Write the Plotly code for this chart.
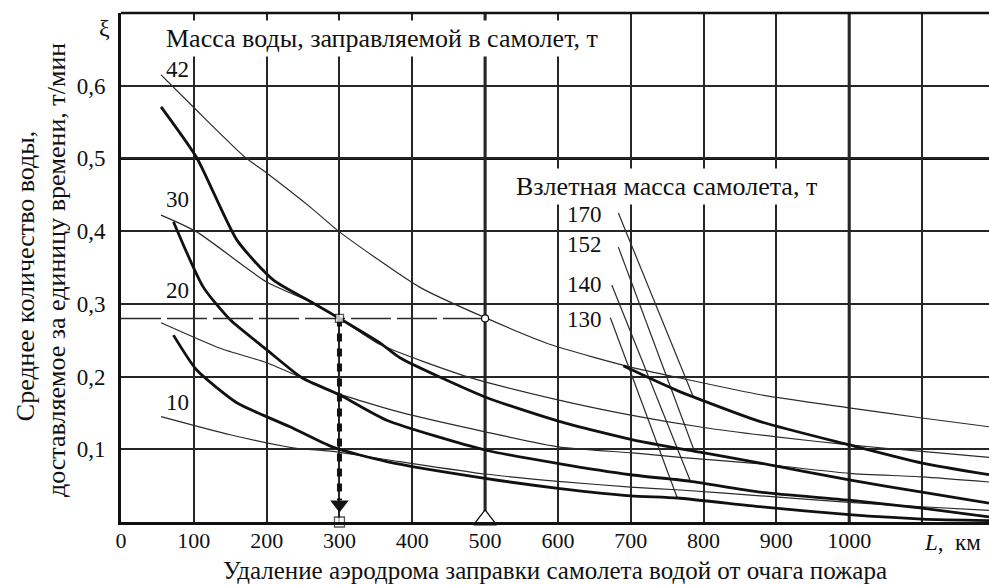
import plotly.graph_objects as go

# ---------------- data ----------------
# thin curves: mass of water loaded into the aircraft, t
dist_w42 = [55, 100, 170, 200, 260, 300, 410, 500, 593, 700, 768, 878, 1000, 1100, 1192]
xi_w42 = [0.615, 0.570, 0.502, 0.480, 0.433, 0.399, 0.323, 0.281, 0.243, 0.213, 0.198, 0.175, 0.157, 0.143, 0.131]

dist_w30 = [55, 104, 200, 255, 300, 356, 475, 600, 700, 800, 900, 1000, 1100, 1192]
xi_w30 = [0.422, 0.399, 0.330, 0.305, 0.280, 0.244, 0.200, 0.168, 0.147, 0.130, 0.117, 0.106, 0.097, 0.089]

dist_w20 = [55, 136, 200, 249, 291, 383, 500, 603, 703, 768, 878, 1000, 1100, 1192]
xi_w20 = [0.274, 0.239, 0.219, 0.198, 0.179, 0.151, 0.124, 0.103, 0.095, 0.089, 0.080, 0.067, 0.062, 0.055]

dist_w10 = [55, 150, 236, 291, 383, 500, 600, 700, 768, 878, 1000, 1100, 1192]
xi_w10 = [0.145, 0.120, 0.102, 0.097, 0.083, 0.066, 0.056, 0.048, 0.044, 0.036, 0.027, 0.021, 0.016]

water_labels = ["42", "30", "20", "10"]
water_label_x = [78, 78, 78, 78]
water_label_y = [0.622, 0.444, 0.319, 0.164]

# thick curves: take-off mass of the aircraft, t
dist_m170 = [690, 700, 768, 786, 878, 1000, 1100, 1192]
xi_m170 = [0.215, 0.210, 0.179, 0.172, 0.138, 0.106, 0.081, 0.065]

dist_m152 = [55, 104, 159, 209, 264, 300, 356, 383, 500, 603, 703, 795, 878, 1000, 1100, 1192]
xi_m152 = [0.571, 0.501, 0.388, 0.333, 0.301, 0.280, 0.246, 0.226, 0.172, 0.138, 0.113, 0.096, 0.081, 0.058, 0.041, 0.026]

dist_m140 = [72, 113, 150, 200, 249, 300, 365, 500, 603, 700, 782, 878, 1000, 1100, 1192]
xi_m140 = [0.413, 0.323, 0.278, 0.237, 0.198, 0.175, 0.140, 0.099, 0.080, 0.065, 0.056, 0.041, 0.030, 0.019, 0.007]

dist_m130 = [72, 104, 159, 195, 232, 291, 365, 500, 603, 700, 764, 878, 1000, 1100, 1192]
xi_m130 = [0.257, 0.209, 0.164, 0.147, 0.131, 0.103, 0.083, 0.060, 0.046, 0.036, 0.033, 0.021, 0.010, 0.004, 0.002]

# leader lines from take-off mass labels to their curves
mass_labels = ["170", "152", "140", "130"]
mass_label_x = [637, 637, 637, 637]
mass_label_y = [0.4225, 0.381, 0.327, 0.278]
leader_x = [[683, 786], [683, 788], [674, 782], [672, 764]]
leader_y = [[0.425, 0.172], [0.378, 0.096], [0.326, 0.056], [0.281, 0.033]]

# worked example
example_xi = 0.28
example_dist_a = 300
example_dist_b = 500

x_ticks = [0, 100, 200, 300, 400, 500, 600, 700, 800, 900, 1000, 1100]
x_tick_text = ["0", "100", "200", "300", "400", "500", "600", "700", "800", "900", "1000", ""]
y_ticks = [0.1, 0.2, 0.3, 0.4, 0.5, 0.6]
y_tick_text = ["0,1", "0,2", "0,3", "0,4", "0,5", "0,6"]

# ---------------- figure ----------------
FONT = "Liberation Serif"
INK = "#111111"
fig = go.Figure()

thin = dict(color="#2b2b2b", width=1.2, shape="spline", smoothing=0.6)
thick = dict(color=INK, width=2.8, shape="spline", smoothing=0.6)

for d, v in [(dist_w42, xi_w42), (dist_w30, xi_w30), (dist_w20, xi_w20), (dist_w10, xi_w10)]:
    fig.add_trace(go.Scatter(x=d, y=v, mode="lines", line=thin, hoverinfo="skip", showlegend=False))

for lx, ly in zip(leader_x, leader_y):
    fig.add_trace(go.Scatter(x=lx, y=ly, mode="lines", line=dict(color="#2b2b2b", width=1.2),
                             hoverinfo="skip", showlegend=False))

for d, v in [(dist_m170, xi_m170), (dist_m152, xi_m152), (dist_m140, xi_m140), (dist_m130, xi_m130)]:
    fig.add_trace(go.Scatter(x=d, y=v, mode="lines", line=thick, hoverinfo="skip", showlegend=False))

# example: dashed horizontal line, dotted arrow
fig.add_trace(go.Scatter(x=[0, example_dist_b], y=[example_xi, example_xi], mode="lines",
                         line=dict(color="#2b2b2b", width=1.5, dash="40px,6px"),
                         hoverinfo="skip", showlegend=False))
fig.add_trace(go.Scatter(x=[example_dist_a, example_dist_a], y=[example_xi, 0.03], mode="lines",
                         line=dict(color=INK, width=5, dash="8px,7px"),
                         hoverinfo="skip", showlegend=False))
fig.add_trace(go.Scatter(x=[example_dist_a], y=[0.024], mode="markers",
                         marker=dict(symbol="triangle-down", size=16, color=INK),
                         hoverinfo="skip", showlegend=False, cliponaxis=False))
fig.add_trace(go.Scatter(x=[example_dist_a, example_dist_a], y=[example_xi, 0], mode="markers",
                         marker=dict(symbol="square", size=[8, 10], color="white",
                                     line=dict(color=INK, width=1.3)),
                         hoverinfo="skip", showlegend=False, cliponaxis=False))
fig.add_trace(go.Scatter(x=[example_dist_b], y=[example_xi], mode="markers",
                         marker=dict(symbol="circle", size=7, color="white",
                                     line=dict(color=INK, width=1.2)),
                         hoverinfo="skip", showlegend=False, cliponaxis=False))
fig.add_trace(go.Scatter(x=[example_dist_b], y=[0.003], mode="markers",
                         marker=dict(symbol="triangle-up", size=20, color="white",
                                     line=dict(color=INK, width=1.3)),
                         hoverinfo="skip", showlegend=False, cliponaxis=False))

# thick grid lines and top frame
shapes = [
    dict(type="line", xref="x", yref="paper", x0=500, x1=500, y0=0, y1=1, line=dict(color=INK, width=3), layer="below"),
    dict(type="line", xref="x", yref="paper", x0=1000, x1=1000, y0=0, y1=1, line=dict(color=INK, width=3), layer="below"),
    dict(type="line", xref="paper", yref="y", x0=0, x1=1, y0=0.5, y1=0.5, line=dict(color=INK, width=3), layer="below"),
    dict(type="line", xref="paper", yref="paper", x0=0, x1=1, y0=1, y1=1, line=dict(color=INK, width=2.5)),
]

annotations = []
for t, x, y in zip(water_labels, water_label_x, water_label_y):
    annotations.append(dict(x=x, y=y, xref="x", yref="y", text=t, showarrow=False,
                            font=dict(family=FONT, size=23, color=INK)))
for t, x, y in zip(mass_labels, mass_label_x, mass_label_y):
    annotations.append(dict(x=x, y=y, xref="x", yref="y", text=t, showarrow=False,
                            font=dict(family=FONT, size=23, color=INK)))

annotations += [
    dict(x=358, y=0.665, xref="x", yref="y", text="Масса воды, заправляемой в самолет, т",
         showarrow=False, bgcolor="white", borderpad=3,
         font=dict(family=FONT, size=26, color=INK)),
    dict(x=749, y=0.461, xref="x", yref="y", text="Взлетная масса самолета, т",
         showarrow=False, bgcolor="white", borderpad=3,
         font=dict(family=FONT, size=26, color=INK)),
    dict(x=0, y=0.680, xref="paper", yref="y", xanchor="center", yanchor="middle", xshift=-17,
         text="ξ", showarrow=False, font=dict(family=FONT, size=24, color=INK)),
    dict(x=1100, y=0, xref="x", yref="paper", xanchor="left", yanchor="middle", yshift=-20,
         text="<i>L</i>,  км", showarrow=False, font=dict(family=FONT, size=23, color=INK)),
    dict(x=0.5, y=0, xref="paper", yref="paper", xanchor="center", yanchor="bottom", yshift=-63,
         borderpad=0,
         text="Удаление аэродрома заправки самолета водой от очага пожара", showarrow=False,
         font=dict(family=FONT, size=25, color=INK)),
    dict(x=0, y=0.483, xref="paper", yref="paper", xanchor="center", yanchor="middle",
         xshift=-96, textangle=-90,
         text="Среднее количество воды,", showarrow=False,
         font=dict(family=FONT, size=26, color=INK)),
    dict(x=0, y=0.495, xref="paper", yref="paper", xanchor="center", yanchor="middle",
         xshift=-65, textangle=-90,
         text="доставляемое за единицу времени, т/мин", showarrow=False,
         font=dict(family=FONT, size=26, color=INK)),
]

fig.update_layout(
    width=989, height=585,
    margin=dict(l=121, r=0, t=13, b=63, pad=0),
    plot_bgcolor="white", paper_bgcolor="white",
    shapes=shapes, annotations=annotations,
    xaxis=dict(range=[0, 1192], tickvals=x_ticks, ticktext=x_tick_text,
               showgrid=True, gridcolor="#262626", gridwidth=1.6,
               showline=True, linecolor=INK, linewidth=3, zeroline=False,
               ticks="", ticklabelstandoff=-3,
               tickfont=dict(family=FONT, size=22, color=INK), fixedrange=True),
    yaxis=dict(range=[0, 0.7], tickvals=y_ticks, ticktext=y_tick_text,
               showgrid=True, gridcolor="#262626", gridwidth=1.6,
               showline=True, linecolor=INK, linewidth=3, zeroline=False,
               ticks="outside", ticklen=8, tickcolor="rgba(0,0,0,0)",
               tickfont=dict(family=FONT, size=23, color=INK), fixedrange=True),
    showlegend=False,
)

fig.write_html("out.html", config={"displayModeBar": False},
               post_script="document.body.style.margin='0';document.body.style.overflow='hidden';")
